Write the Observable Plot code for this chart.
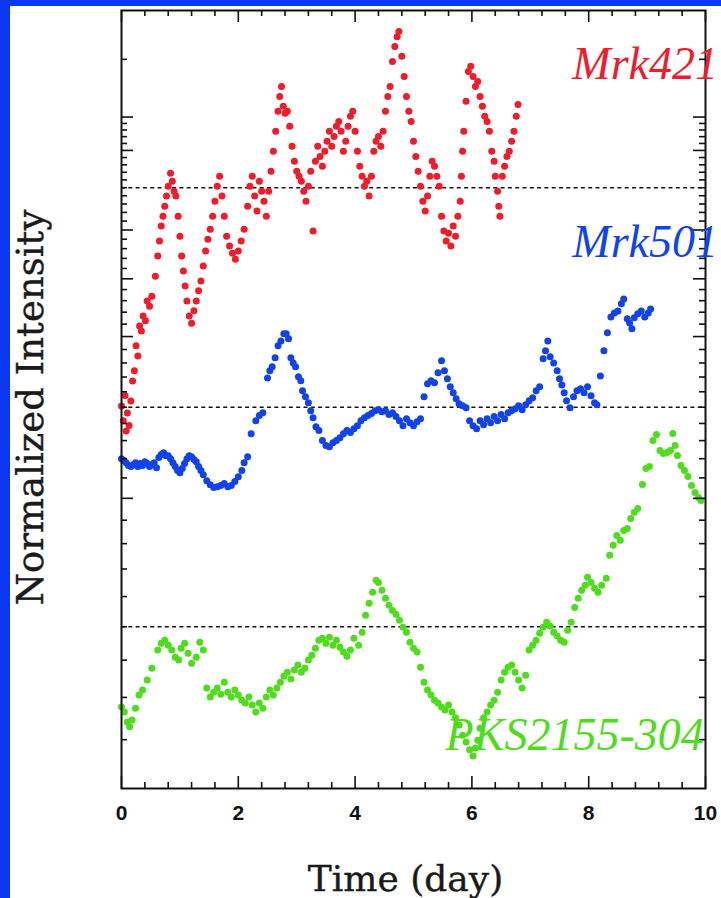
<!DOCTYPE html>
<html>
<head>
<meta charset="utf-8">
<script src="https://cdn.jsdelivr.net/npm/d3@7"></script>
<script src="https://cdn.jsdelivr.net/npm/@observablehq/plot@0.6"></script>
<style>
  html, body { margin: 0; padding: 0; }
  body { background: #0a37f2; width: 721px; height: 898px; overflow: hidden; position: relative; }
  #sheet { position: absolute; left: 10px; top: 6px; width: 711px; height: 892px; background: #ffffff; }
</style>
</head>
<body>
<div id="sheet"></div>
<script>
// Light curves: [time (day), intensity normalized to the mean]
const mrk421 = [[0.00,0.502],[0.03,0.479],[0.06,0.519],[0.08,0.464],[0.10,0.491],[0.13,0.472],[0.16,0.510],[0.19,0.543],[0.22,0.561],[0.25,0.607],[0.28,0.588],[0.31,0.646],[0.34,0.636],[0.37,0.667],[0.41,0.657],[0.44,0.699],[0.48,0.688],[0.52,0.710],[0.58,0.756],[0.62,0.806],[0.65,0.845],[0.68,0.886],[0.71,0.914],[0.74,0.943],[0.77,0.974],[0.80,1.005],[0.84,1.047],[0.87,1.021],[0.90,0.989],[0.93,0.974],[0.97,0.914],[1.00,0.858],[1.03,0.806],[1.06,0.769],[1.09,0.733],[1.12,0.699],[1.16,0.667],[1.20,0.652],[1.24,0.678],[1.28,0.699],[1.32,0.722],[1.36,0.745],[1.40,0.781],[1.44,0.819],[1.48,0.850],[1.52,0.877],[1.56,0.914],[1.60,0.958],[1.64,1.005],[1.68,1.037],[1.72,0.974],[1.76,0.914],[1.80,0.858],[1.85,0.832],[1.90,0.813],[1.95,0.798],[2.00,0.819],[2.05,0.845],[2.10,0.877],[2.16,0.943],[2.20,1.005],[2.24,1.037],[2.28,0.974],[2.32,0.929],[2.36,1.021],[2.40,0.989],[2.44,0.958],[2.48,0.914],[2.52,0.989],[2.56,1.053],[2.60,1.122],[2.64,1.195],[2.68,1.273],[2.71,1.334],[2.74,1.377],[2.77,1.293],[2.80,1.265],[2.84,1.273],[2.88,1.214],[2.92,1.140],[2.96,1.087],[3.00,1.053],[3.04,1.037],[3.08,1.021],[3.12,0.989],[3.16,0.958],[3.20,1.005],[3.24,1.053],[3.28,0.872],[3.32,1.087],[3.36,1.140],[3.40,1.104],[3.44,1.070],[3.48,1.122],[3.52,1.158],[3.56,1.195],[3.60,1.140],[3.64,1.176],[3.68,1.214],[3.72,1.233],[3.76,1.195],[3.80,1.122],[3.84,1.158],[3.88,1.214],[3.92,1.253],[3.96,1.273],[4.00,1.195],[4.04,1.122],[4.08,1.070],[4.12,1.037],[4.16,1.005],[4.20,1.021],[4.24,0.974],[4.28,1.037],[4.32,1.122],[4.36,1.158],[4.40,1.176],[4.44,1.140],[4.48,1.195],[4.52,1.273],[4.56,1.334],[4.60,1.377],[4.64,1.490],[4.68,1.562],[4.72,1.611],[4.75,1.638],[4.80,1.514],[4.84,1.421],[4.88,1.334],[4.92,1.273],[4.96,1.233],[5.00,1.158],[5.04,1.104],[5.08,1.053],[5.12,1.005],[5.16,0.958],[5.20,0.929],[5.24,0.974],[5.28,1.037],[5.32,1.087],[5.36,1.070],[5.40,1.037],[5.44,1.005],[5.48,0.914],[5.52,0.872],[5.56,0.845],[5.60,0.866],[5.64,0.832],[5.68,0.886],[5.72,0.858],[5.76,0.914],[5.80,0.958],[5.82,1.037],[5.84,1.122],[5.86,1.195],[5.90,1.314],[5.94,1.443],[5.98,1.467],[6.02,1.421],[6.06,1.377],[6.10,1.399],[6.14,1.334],[6.18,1.293],[6.22,1.253],[6.26,1.233],[6.30,1.195],[6.34,1.122],[6.38,1.087],[6.40,1.037],[6.44,0.989],[6.46,0.943],[6.48,0.914],[6.52,1.037],[6.56,1.070],[6.60,1.104],[6.64,1.122],[6.68,1.158],[6.72,1.195],[6.76,1.253],[6.79,1.301]];

const mrk501 = [[0.00,0.850],[0.04,0.845],[0.08,0.839],[0.12,0.832],[0.16,0.829],[0.20,0.834],[0.24,0.839],[0.28,0.829],[0.32,0.837],[0.36,0.832],[0.40,0.842],[0.44,0.837],[0.48,0.829],[0.52,0.834],[0.56,0.839],[0.60,0.826],[0.64,0.853],[0.68,0.861],[0.72,0.866],[0.76,0.858],[0.80,0.858],[0.84,0.850],[0.88,0.839],[0.92,0.829],[0.96,0.819],[1.00,0.813],[1.04,0.824],[1.08,0.837],[1.12,0.850],[1.16,0.858],[1.20,0.855],[1.24,0.848],[1.28,0.842],[1.32,0.829],[1.36,0.819],[1.40,0.808],[1.46,0.793],[1.52,0.783],[1.58,0.776],[1.64,0.778],[1.70,0.781],[1.76,0.786],[1.82,0.778],[1.88,0.781],[1.94,0.791],[2.00,0.803],[2.06,0.819],[2.10,0.839],[2.16,0.855],[2.22,0.920],[2.30,0.958],[2.36,0.974],[2.42,0.983],[2.50,1.097],[2.54,1.122],[2.58,1.136],[2.63,1.169],[2.68,1.214],[2.73,1.233],[2.78,1.261],[2.82,1.261],[2.86,1.241],[2.90,1.169],[2.94,1.150],[2.98,1.136],[3.03,1.101],[3.07,1.087],[3.10,1.053],[3.15,1.034],[3.20,1.014],[3.24,0.989],[3.28,0.967],[3.33,0.940],[3.38,0.929],[3.44,0.900],[3.50,0.886],[3.56,0.883],[3.62,0.894],[3.68,0.900],[3.74,0.908],[3.80,0.920],[3.86,0.929],[3.92,0.923],[3.98,0.934],[4.04,0.943],[4.10,0.958],[4.16,0.967],[4.22,0.974],[4.28,0.980],[4.34,0.989],[4.40,0.992],[4.46,0.986],[4.52,0.989],[4.58,0.977],[4.64,0.983],[4.70,0.971],[4.76,0.958],[4.82,0.943],[4.88,0.964],[4.94,0.952],[5.00,0.943],[5.06,0.955],[5.12,0.964],[5.18,1.034],[5.24,1.077],[5.30,1.087],[5.36,1.080],[5.42,1.115],[5.48,1.158],[5.53,1.122],[5.58,1.094],[5.63,1.067],[5.68,1.047],[5.73,1.027],[5.78,1.011],[5.84,1.005],[5.90,0.998],[5.96,0.958],[6.02,0.943],[6.08,0.934],[6.14,0.958],[6.20,0.946],[6.26,0.964],[6.32,0.952],[6.38,0.971],[6.44,0.958],[6.50,0.977],[6.56,0.964],[6.62,0.983],[6.68,0.989],[6.74,0.995],[6.80,1.005],[6.86,0.992],[6.92,1.008],[6.98,1.021],[7.04,1.030],[7.10,1.053],[7.16,1.067],[7.22,1.165],[7.26,1.195],[7.30,1.233],[7.34,1.173],[7.40,1.150],[7.46,1.122],[7.50,1.094],[7.54,1.073],[7.58,1.047],[7.62,1.021],[7.68,0.998],[7.74,1.034],[7.80,1.053],[7.86,1.060],[7.92,1.047],[7.98,1.067],[8.04,1.037],[8.10,1.014],[8.14,1.008],[8.20,1.104],[8.26,1.195],[8.32,1.265],[8.38,1.330],[8.44,1.347],[8.50,1.355],[8.56,1.386],[8.60,1.407],[8.66,1.322],[8.70,1.305],[8.74,1.281],[8.78,1.326],[8.84,1.343],[8.90,1.355],[8.96,1.330],[9.02,1.347],[9.06,1.364]];

const pks2155 = [[0.00,0.776],[0.05,0.764],[0.10,0.740],[0.14,0.729],[0.18,0.745],[0.24,0.773],[0.30,0.806],[0.36,0.819],[0.44,0.845],[0.52,0.877],[0.62,0.929],[0.68,0.949],[0.74,0.958],[0.80,0.943],[0.86,0.929],[0.92,0.908],[0.98,0.900],[1.02,0.934],[1.08,0.949],[1.14,0.920],[1.20,0.891],[1.28,0.908],[1.34,0.952],[1.40,0.929],[1.46,0.824],[1.52,0.801],[1.58,0.813],[1.64,0.824],[1.70,0.808],[1.76,0.839],[1.82,0.813],[1.88,0.801],[1.94,0.819],[2.00,0.806],[2.06,0.793],[2.12,0.786],[2.18,0.801],[2.24,0.781],[2.30,0.764],[2.36,0.786],[2.42,0.773],[2.48,0.801],[2.54,0.819],[2.60,0.806],[2.66,0.824],[2.72,0.839],[2.78,0.855],[2.84,0.866],[2.90,0.848],[2.96,0.872],[3.02,0.886],[3.08,0.866],[3.14,0.877],[3.20,0.900],[3.26,0.914],[3.32,0.934],[3.38,0.958],[3.44,0.964],[3.50,0.949],[3.56,0.967],[3.62,0.943],[3.68,0.958],[3.74,0.937],[3.80,0.923],[3.86,0.911],[3.92,0.929],[3.98,0.964],[4.06,0.943],[4.12,0.983],[4.18,1.037],[4.24,1.077],[4.30,1.115],[4.36,1.158],[4.40,1.150],[4.46,1.122],[4.52,1.094],[4.58,1.070],[4.64,1.053],[4.70,1.040],[4.76,1.021],[4.82,0.998],[4.88,0.983],[4.94,0.952],[5.00,0.934],[5.06,0.923],[5.12,0.880],[5.18,0.839],[5.24,0.819],[5.30,0.806],[5.36,0.793],[5.42,0.786],[5.48,0.776],[5.54,0.769],[5.60,0.781],[5.66,0.764],[5.72,0.750],[5.78,0.733],[5.84,0.710],[5.90,0.695],[5.96,0.678],[6.02,0.665],[6.06,0.682],[6.10,0.699],[6.14,0.726],[6.20,0.750],[6.26,0.764],[6.32,0.781],[6.38,0.793],[6.44,0.813],[6.50,0.845],[6.56,0.866],[6.62,0.880],[6.68,0.886],[6.74,0.866],[6.80,0.845],[6.86,0.824],[6.92,0.858],[6.98,0.929],[7.04,0.943],[7.10,0.958],[7.16,0.980],[7.22,0.998],[7.28,1.014],[7.34,1.002],[7.40,0.983],[7.46,0.971],[7.52,0.958],[7.58,0.952],[7.64,0.989],[7.70,1.014],[7.76,1.063],[7.82,1.094],[7.88,1.122],[7.94,1.140],[7.98,1.169],[8.04,1.150],[8.10,1.129],[8.16,1.115],[8.22,1.140],[8.30,1.165],[8.36,1.253],[8.42,1.293],[8.48,1.334],[8.54,1.314],[8.60,1.355],[8.66,1.364],[8.72,1.407],[8.78,1.435],[8.84,1.453],[8.92,1.567],[8.98,1.648],[9.04,1.658],[9.10,1.800],[9.16,1.835],[9.22,1.744],[9.28,1.728],[9.34,1.733],[9.40,1.744],[9.44,1.841],[9.48,1.772],[9.52,1.717],[9.58,1.664],[9.64,1.638],[9.70,1.607],[9.76,1.562],[9.82,1.528],[9.88,1.504],[9.92,1.490]];

// Sources, their vertical offset factors (log scale) and colours
const sources = ["Mrk421", "Mrk501", "PKS2155-304"];
const offsets = [4, 2, 1];
const colors = ["#f01c2c", "#1043ec", "#4fdc1c"];
// Label anchor (start time, baseline intensity) for each source name
const labelTime = [7.72, 7.72, 5.55];
const labelLevel = [5.63, 3.21, 0.678];

// Axis ticks
const xMajor = [0, 2, 4, 6, 8, 10];
const xMinor = [0.4, 0.8, 1.2, 1.6, 2.4, 2.8, 3.2, 3.6, 4.4, 4.8, 5.2, 5.6, 6.4, 6.8, 7.2, 7.6, 8.4, 8.8, 9.2, 9.6];
const yMajor = [1.5, 2.5, 3, 3.5, 4.5, 5];
const yMinor = [0.7, 0.8, 0.9, 1, 1.1, 1.2, 1.3, 1.4, 1.6, 1.7, 1.8, 1.9, 2, 2.1, 2.2, 2.3, 2.4, 2.6, 2.7, 2.8, 2.9, 3.1, 3.2, 3.3, 3.4, 3.6, 3.7, 3.8, 3.9, 4, 4.1, 4.2, 4.3, 4.4, 4.6, 4.7, 4.8, 4.9, 6];

const curves = [mrk421, mrk501, pks2155];
const points = curves.flatMap((curve, i) =>
  curve.map(([t, v]) => ({source: sources[i], time: t, intensity: v * offsets[i]}))
);
const labels = sources.map((s, i) => ({source: s, time: labelTime[i], level: labelLevel[i]}));

const W = 711, H = 892;
const mL = 111, mR = 16, mT = 4, mB = 110;
const fw = W - mL - mR, fh = H - mT - mB;
const major = 12, minor = 6;
const ink = "#111";

const chart = Plot.plot({
  width: W,
  height: H,
  marginLeft: mL,
  marginRight: mR,
  marginTop: mT,
  marginBottom: mB,
  style: {background: "transparent", overflow: "visible"},
  x: {domain: [0, 10], axis: null},
  y: {type: "log", domain: [0.6, 7], axis: null},
  color: {domain: sources, range: colors},
  marks: [
    // dashed reference level for each source
    Plot.ruleY(offsets, {stroke: ink, strokeWidth: 1.6, strokeDasharray: "4,3.3"}),
    Plot.dot(points, {x: "time", y: "intensity", fill: "source", r: 3.5, stroke: "none"}),
    // inward ticks on all four sides
    Plot.tickX(xMajor, {x: d => d, insetTop: fh - major, stroke: ink, strokeWidth: 1.6}),
    Plot.tickX(xMinor, {x: d => d, insetTop: fh - minor, stroke: ink, strokeWidth: 1.6}),
    Plot.tickX(xMajor, {x: d => d, insetBottom: fh - major, stroke: ink, strokeWidth: 1.6}),
    Plot.tickX(xMinor, {x: d => d, insetBottom: fh - minor, stroke: ink, strokeWidth: 1.6}),
    Plot.tickY(yMajor, {y: d => d, insetRight: fw - major, stroke: ink, strokeWidth: 1.6}),
    Plot.tickY(yMinor, {y: d => d, insetRight: fw - minor, stroke: ink, strokeWidth: 1.6}),
    Plot.tickY(yMajor, {y: d => d, insetLeft: fw - major, stroke: ink, strokeWidth: 1.6}),
    Plot.tickY(yMinor, {y: d => d, insetLeft: fw - minor, stroke: ink, strokeWidth: 1.6}),
    Plot.frame({stroke: ink, strokeWidth: 2}),
    // x tick labels
    Plot.text(xMajor, {
      x: d => d, frameAnchor: "bottom", dy: 25, lineAnchor: "middle",
      text: d => String(d), fontSize: 21, fontWeight: "bold",
      fontFamily: "Liberation Sans, Arial, sans-serif", fill: ink
    }),
    // axis titles
    Plot.text(["Time (day)"], {
      frameAnchor: "bottom", dy: 102, dx: -8, lineAnchor: "bottom", textAnchor: "middle",
      fontSize: 36, fontFamily: "DejaVu Serif, serif", fill: "#1a1a1a", stroke: "#1a1a1a", strokeWidth: 0.4
    }),
    Plot.text(["Normalized Intensity"], {
      frameAnchor: "left", rotate: -90, dx: -79, dy: 8, lineAnchor: "bottom", textAnchor: "middle",
      fontSize: 37, fontFamily: "DejaVu Serif, serif", fill: "#1a1a1a", stroke: "#1a1a1a", strokeWidth: 0.4
    }),
    // source names
    Plot.text(labels, {
      x: "time", y: "level", text: "source", fill: "source",
      textAnchor: "start", lineAnchor: "bottom",
      fontSize: 46, fontStyle: "italic", fontFamily: "Liberation Serif, Times New Roman, serif"
    })
  ]
});

document.getElementById("sheet").appendChild(chart);
</script>
</body>
</html>
